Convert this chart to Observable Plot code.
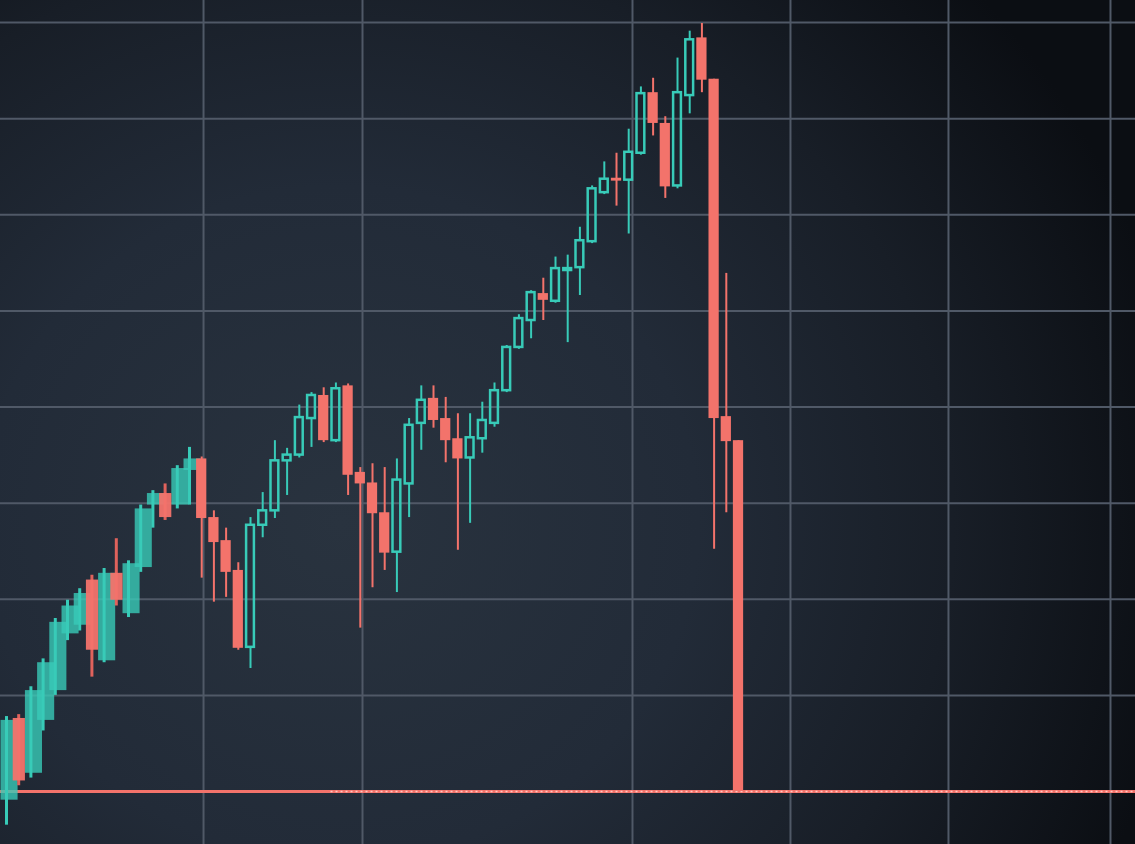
<!DOCTYPE html>
<html>
<head>
<meta charset="utf-8">
<script src="https://cdn.jsdelivr.net/npm/d3@7"></script>
<script src="https://cdn.jsdelivr.net/npm/@observablehq/plot@0.6"></script>
<style>
  html, body { margin: 0; padding: 0; background: #141a22; overflow: hidden; }
  #chart svg { display: block; }
</style>
</head>
<body>
<div id="chart"></div>
<script>
// ---- data (candle index 0..60) ----
const opens  = [99.1,107.6,101.9,107.4,110.5,116.4,117.3,122.0,113.6,122.7,118.5,123.3,129.8,131.0,129.8,133.4,134.6,128.5,126.1,123.0,
                115.0,127.7,129.2,134.4,135.0,138.8,141.2,136.5,142.2,133.2,132.1,129.0,124.9,132.0,138.3,140.9,138.8,136.7,134.7,136.7,
                138.3,141.7,146.2,149.0,151.8,151.0,154.2,154.5,157.2,162.3,163.8,163.6,166.4,172.7,169.5,163.0,172.4,178.4,174.1,139.0,136.5];
const closes = [107.4,101.1,110.5,113.4,117.6,119.3,120.6,114.7,122.7,119.9,123.7,129.4,131.0,128.5,133.6,134.6,128.4,125.9,122.8,114.9,
                127.7,129.2,134.4,135.0,138.9,141.2,136.5,141.9,132.9,132.0,128.9,124.8,132.4,138.1,140.7,138.6,136.5,134.6,136.8,138.6,
                141.7,146.2,149.2,151.9,151.1,154.4,154.4,157.3,162.7,163.7,163.5,166.5,172.6,169.5,162.9,172.7,178.2,174.0,138.8,136.4,100.0];
const highs  = [107.8,108.0,110.9,113.8,118.0,119.9,121.1,122.5,123.2,126.3,124.0,129.8,131.3,132.0,133.9,135.8,134.8,129.2,127.4,123.8,
                128.5,131.1,136.5,135.7,140.2,141.5,142.0,142.5,142.4,133.7,134.1,133.7,134.6,138.8,142.2,142.2,141.0,139.3,139.3,140.5,
                142.5,146.4,149.6,152.1,153.4,155.6,155.8,158.7,163.0,165.5,166.4,168.9,173.3,174.2,170.2,176.3,179.1,179.9,174.1,153.9,136.5];
const lows   = [96.5,100.6,101.4,106.3,110.0,115.7,116.7,111.9,113.4,119.3,118.1,122.8,127.4,128.2,129.4,129.8,122.2,119.7,120.2,114.7,
                112.8,126.4,128.4,130.8,134.7,135.8,136.3,136.3,130.8,117.0,121.2,123.0,120.7,128.5,135.5,137.8,134.2,125.1,127.9,135.2,
                137.9,141.5,146.0,147.1,149.0,150.8,146.7,151.6,157.0,162.1,160.9,158.0,166.2,168.2,161.7,162.7,170.5,172.7,125.2,129.0,100.0];
const priceGrid = [100, 110, 120, 130, 140, 150, 160, 170, 180];
const timeGrid  = [16.15, 29.18, 51.31, 64.26, 77.21, 90.49];
const lastClose = 100;
const blurredUntil = 15;     // left candles smeared in the reference photo
const dottedFrom = 26.6;     // price line turns dotted from here

const teal = "#38cbb8";
const red = "#f3736b";
const gridColor = "#505967";

const candles = opens.map((o, i) => ({
  i, o, c: closes[i], h: highs[i], l: lows[i],
  up: closes[i] >= opens[i],
  top: Math.max(o, closes[i]), bot: Math.min(o, closes[i])
}));
const up = candles.filter(d => d.up);
const down = candles.filter(d => !d.up);
const upSharp = up.filter(d => d.i > blurredUntil);
const upBlur = up.filter(d => d.i <= blurredUntil);
const downSharp = down.filter(d => d.i > blurredUntil);
const downBlur = down.filter(d => d.i <= blurredUntil);

const xDomain = [-0.4918, 92.54];

const plot = Plot.plot({
  width: 1135,
  height: 844,
  margin: 0,
  x: {domain: xDomain, axis: null},
  y: {domain: [94.49, 182.29], axis: null},
  style: {
    background: "radial-gradient(ellipse 75% 95% at 30% 62%, #29333f 0%, #222b38 42%, #181e27 72%, #0b0e13 100%)",
    overflow: "hidden"
  },
  marks: [
    Plot.ruleY(priceGrid, {stroke: gridColor, strokeWidth: 2}),
    Plot.ruleX(timeGrid, {stroke: gridColor, strokeWidth: 2}),
    Plot.ruleY([lastClose], {stroke: red, strokeWidth: 3}),
    Plot.ruleY([lastClose], {x1: dottedFrom, x2: xDomain[1], stroke: "#ffc9c3", strokeWidth: 1.5, strokeDasharray: "2,3"}),
    // smeared left part (photo motion blur)
    Plot.ruleX(upBlur, {x: "i", y1: "l", y2: "h", stroke: teal, strokeWidth: 3, ariaLabel: "blur-a"}),
    Plot.rect(upBlur, {x1: d => d.i - 0.45, x2: d => d.i + 0.95, y1: "o", y2: "c", fill: teal, fillOpacity: 0.8, ariaLabel: "blur-b"}),
    Plot.ruleX(downBlur, {x: "i", y1: "l", y2: "h", stroke: "#e0625c", strokeWidth: 3, ariaLabel: "blur-c"}),
    Plot.rect(downBlur, {x1: d => d.i - 0.45, x2: d => d.i + 0.55, y1: "o", y2: "c", fill: red, fillOpacity: 0.95, ariaLabel: "blur-d"}),
    // sharp candles: wicks
    Plot.ruleX(downSharp, {x: "i", y1: "l", y2: "h", stroke: red, strokeWidth: 2}),
    Plot.ruleX(upSharp, {x: "i", y1: "top", y2: "h", stroke: teal, strokeWidth: 2}),
    Plot.ruleX(upSharp, {x: "i", y1: "l", y2: "bot", stroke: teal, strokeWidth: 2}),
    // sharp candles: bodies
    Plot.rect(upSharp, {x1: d => d.i - 0.32, x2: d => d.i + 0.32, y1: "o", y2: "c", fill: "none", stroke: teal, strokeWidth: 2.5}),
    Plot.rect(downSharp, {x1: d => d.i - 0.42, x2: d => d.i + 0.42, y1: "o", y2: "c", fill: red})
  ]
});

// soften the smeared left part like in the photo
const svg = d3.select(plot);
const defs = svg.insert("defs", ":first-child");
defs.append("filter").attr("id", "smear")
  .attr("x", "-30%").attr("y", "-5%").attr("width", "160%").attr("height", "110%")
  .append("feGaussianBlur").attr("stdDeviation", "2.2 0.9");
svg.selectAll('g[aria-label^="blur-"]').attr("filter", "url(#smear)");

document.getElementById("chart").appendChild(plot);
</script>
</body>
</html>
